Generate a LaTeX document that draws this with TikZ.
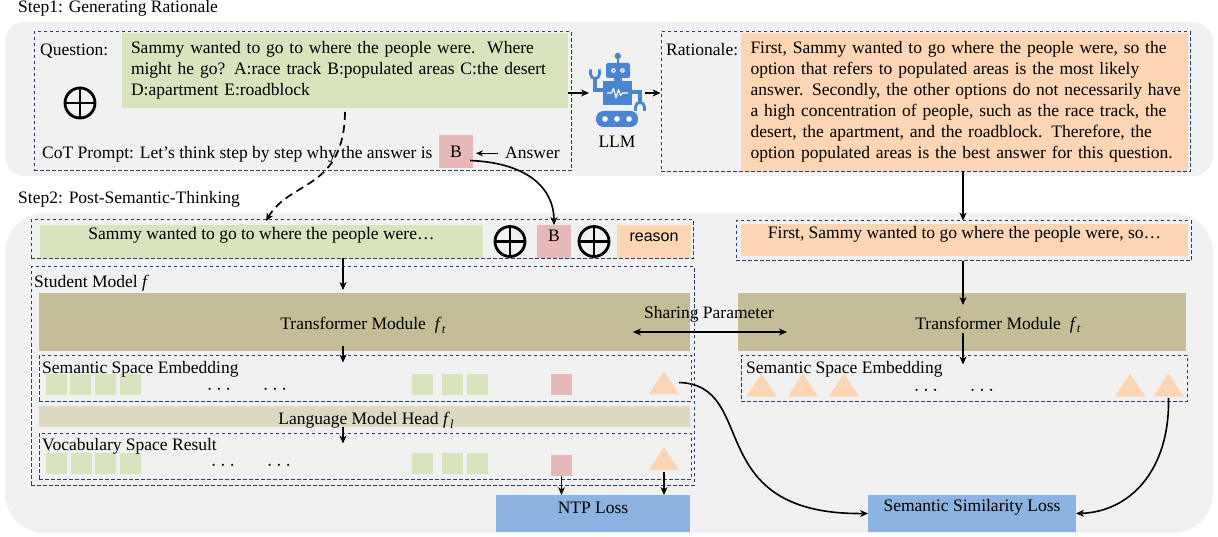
\documentclass[tikz,border=0pt]{standalone}
\usepackage{fontspec}
\setmainfont{Liberation Serif}
\newfontfamily\sansf{Liberation Sans}
\usetikzlibrary{arrows.meta,fit,calc}
\definecolor{bgg}{HTML}{F1F1F1}
\definecolor{grn}{HTML}{D8E4BD}
\definecolor{pnk}{HTML}{E6B8B7}
\definecolor{pch}{HTML}{FCD5B4}
\definecolor{khk}{HTML}{C4BD97}
\definecolor{lmh}{HTML}{DDD9C3}
\definecolor{blu}{HTML}{8DB3E2}
\definecolor{dsh}{HTML}{24406A}
\definecolor{rob}{HTML}{4A86CF}
\newcommand\jl[1]{\makebox[428pt][s]{#1}\\}
\newcommand\fsb[1]{\textit{f}\kern0.3pt\raisebox{-4pt}{\fontsize{12.5}{12.5}\selectfont\textit{#1}}}
\begin{document}
\begin{tikzpicture}[x=1pt,y=-1pt,font=\fontsize{17.5}{21}\selectfont,
 dbox/.style={draw=dsh,line width=1pt,dash pattern=on 3.5pt off 2.5pt,inner sep=0pt},
 fb/.style={inner sep=0pt,outer sep=0pt},
 arr/.style={-{Stealth[length=8pt,width=7pt]},line width=1.6pt},
 sq/.style={fill=#1,minimum size=21pt,inner sep=0pt,outer sep=0pt},
 opl/.style={circle,draw=black,line width=2.8pt,minimum size=30pt,inner sep=0pt},
 lbl/.style={anchor=base west,inner sep=0pt},
 ctr/.style={anchor=base,inner sep=0pt},
 dts/.style={inner sep=0pt,font=\fontsize{21}{21}\selectfont},
 tri/.pic={\fill[pch] (-15,11.5) -- (0,-11.5) -- (15,11.5) -- cycle;
   \coordinate (-b) at (0,13); \coordinate (-r) at (15,0);}]
\useasboundingbox (0,0) rectangle (1218,537);

% panels
\node[fb,fill=bgg,rounded corners=20pt,fit={(5,22) (1213,176)}] (p1) {};
\node[fb,fill=bgg,rounded corners=40pt,fit={(5,213) (1213,533)}] (p2) {};
\node[lbl] (s1) at (18,13) {Step1: Generating Rationale};
\node[lbl] (s2) at (18,204) {Step2: Post-Semantic-Thinking};

% ---------- step 1 ----------
\node[fb,fill=grn,anchor=north west,text width=428pt,inner xsep=9pt,minimum height=75pt,align=left] (qg) at (122,33)
 {\jl{Sammy wanted to go to where the people were.\ \ Where}\jl{might he go? A:race track B:populated areas C:the desert}D:apartment E:roadblock};
\node[lbl] (ql) at (40,56) {Question:};
\node[opl] (o0) at (80,103) {};
\draw[line width=2.8pt] (o0.north) -- (o0.south) (o0.west) -- (o0.east);
\node[lbl] (cot) at (42,159) {CoT Prompt: Let’s think step by step why the answer is};
\node[fb,fill=pnk,minimum width=34pt,minimum height=33pt] (b1) at (456,151.5) {B};
\node[lbl] (ans) at (505,159) {Answer};

\node[fb,fill=pch,anchor=north west,text width=428pt,inner xsep=9.5pt,minimum height=138pt,align=left] (ro) at (741,33)
 {\jl{First, Sammy wanted to go where the people were, so the}\jl{option that refers to populated areas is the most likely}\jl{answer. Secondly, the other options do not necessarily have}\jl{a high concentration of people, such as the race track, the}\jl{desert, the apartment, and the roadblock. Therefore, the}option populated areas is the best answer for this question.};
\node[lbl] (rl) at (666,56) {Rationale:};

% robot
\node[fb,fit={(589,59) (645,127)}] (robot) {};
\fill[rob] (617.8,56) circle (3.2pt);
\fill[rob] (616.9,58) rectangle (618.7,64);
\fill[rob,rounded corners=2pt] (606,63) rectangle (630,78);
\fill[white] (613.5,70.5) circle (2.3pt) (622.5,70.5) circle (2.3pt);
\fill[rob] (613.5,70.5) circle (1pt) (622.5,70.5) circle (1pt);
\fill[rob] (614,77) rectangle (622,82);
\fill[rob] (603,81) rectangle (632,105);
\draw[white,line width=1.1pt,line join=round] (607,93) -- (611.5,93) -- (613.5,88.5) -- (616,98) -- (618.5,89.5) -- (620.5,95.5) -- (622.5,93) -- (628,93);
\draw[rob,line width=3.5pt] (604,90) -- (595,90) -- (595,77);
\draw[rob,line width=2.8pt] (590.5,69.5) -- (590.5,74) .. controls (590.5,80) and (599.5,80) .. (599.5,74) -- (599.5,69.5);
\draw[rob,line width=3.5pt] (631,92) -- (640,92) -- (640,103);
\draw[rob,line width=2.8pt] (635.5,111) -- (635.5,107) .. controls (635.5,101) and (644.5,101) .. (644.5,107) -- (644.5,111);
\fill[rob,rounded corners=7.5pt] (596,111) rectangle (638,127);
\fill[white] (605,119) circle (2.8pt) (617,119) circle (2.8pt) (629,119) circle (2.8pt);
\node[ctr] (llm) at (617,148) {LLM};

\node[dbox,fit={(34,32) (571,171)}] (qd) {};
\node[dbox,fit={(661,32) (1190,172)}] (rd) {};

% ---------- step 2 ----------
\node[fb,fill=grn,fit={(40,225) (483,258)}] (ig) {Sammy wanted to go to where the people were…};
\node[opl] (o1) at (510,241.5) {};
\draw[line width=2.8pt] (o1.north) -- (o1.south) (o1.west) -- (o1.east);
\node[fb,fill=pnk,fit={(537,225) (571,258)}] (b2) {B};
\node[opl] (o2) at (594,241.5) {};
\draw[line width=2.8pt] (o2.north) -- (o2.south) (o2.west) -- (o2.east);
\node[fb,fill=pch,fit={(617,225) (691,258)},font=\sansf\fontsize{16}{16}\selectfont] (rs) {reason};

\node[fb,fill=khk,fit={(39,293) (690,351)}] (tL) {};
\node[ctr] (tLt) at (363,330) {Transformer Module\ \ \fsb{t}};
\node[fb,fill=lmh,fit={(39,406) (690,427)}] (lm) {};
\node[ctr] (lmt) at (366,424) {Language Model Head \fsb{l}};
\node[fb,fill=blu,fit={(496,495) (690,532)}] (ntp) {NTP Loss};

\node[fb,fill=pch,fit={(741,224) (1188,256)}] (rg) {First, Sammy wanted to go where the people were, so…};
\node[fb,fill=khk,fit={(738,293) (1186,351)}] (tR) {};
\node[ctr] (tRt) at (998,329) {Transformer Module\ \ \fsb{t}};
\node[fb,fill=blu,fit={(868,495) (1076,532)}] (ssl) {Semantic Similarity Loss};

% tokens: left semantic embedding
\foreach \x [count=\i] in {56.5,80,105.5,130.5,422.5,452,477.5}
  \node[sq=grn] (se\i) at (\x,384.5) {};
\node[sq=pnk] (sp1) at (561.5,384.5) {};
\pic (t1) at (664,382.5) {tri};
\node[dts] (sd1) at (219,390) {$\cdots$};
\node[dts] (sd2) at (275,390) {$\cdots$};
% tokens: vocabulary
\foreach \x [count=\i] in {56.5,81.5,105.5,130.5,422.5,452,477.5}
  \node[sq=grn] (ve\i) at (\x,463.5) {};
\node[sq=pnk] (vp) at (561.5,465.5) {};
\pic (vt) at (664,458.5) {tri};
\node[dts] (vd1) at (223,466) {$\cdots$};
\node[dts] (vd2) at (279,466) {$\cdots$};
% tokens: right semantic embedding
\pic (r1) at (761.5,385) {tri};
\pic (r2) at (803,385) {tri};
\pic (r3) at (844,385) {tri};
\pic (r4) at (1130,385) {tri};
\pic (r5) at (1168.5,385) {tri};
\node[dts] (rd1) at (926,391) {$\cdots$};
\node[dts] (rd2) at (982,391) {$\cdots$};

% dashed boxes step 2
\node[dbox,fit={(31,220) (693,259)}] (id) {};
\node[dbox,fit={(31,267) (694,485)}] (sd) {};
\node[dbox,fit={(39,355) (691,401)}] (seL) {};
\node[dbox,fit={(39,433) (691,479)}] (voc) {};
\node[dbox,fit={(736,221) (1191,261)}] (rid) {};
\node[dbox,fit={(741,355) (1187,401)}] (seR) {};

\node[lbl] (stl) at (34,288) {Student Model \textit{f}};
\node[lbl] (sel) at (42,373) {Semantic Space Embedding};
\node[lbl] (vol) at (42,450) {Vocabulary Space Result};
\node[lbl] (ser) at (746,373) {Semantic Space Embedding};
\node[ctr] (sp) at (709,319) {Sharing Parameter};

% ---------- connectors ----------
\coordinate (xL) at (343,0);
\coordinate (xR) at (963,0);
\coordinate (dE) at (266,221);
\draw[-{Stealth[length=7pt,width=6pt]},line width=1.2pt,shorten >=3pt,shorten <=7pt] (ans.west) -- (b1.east |- ans.west);
\draw[arr] (qg.east |- robot.west) -- (robot.west);
\draw[arr] (robot.east) -- (rd.west |- robot.east);
\draw[arr,dash pattern=on 8pt off 5pt,line width=1.7pt] ($(qg.south)+(0,4)$) .. controls (344,190) and (290,180) .. (dE);
\draw[arr] ($(b1.east)+(-3,9)$) .. controls (530,163) and (554,190) .. (b2.north);

\draw[arr,shorten >=3pt] (ig.south -| xL) -- (tL.north -| xL);
\draw[arr] ($(tL.south -| xL)+(0,-5)$) -- ($(seL.north -| xL)+(0,8)$);
\draw[arr] (lm.south -| xL) -- ($(voc.north -| xL)+(0,11)$);
\draw[arr] (vp.south) -- (ntp.north -| vp.south);
\draw[arr] (vt-b) -- (ntp.north -| vt-b);

\draw[arr] (ro.south -| xR) -- (rid.north -| xR);
\draw[arr] (rid.south -| xR) -- ($(tR.north -| xR)+(0,12)$);
\draw[arr] ($(tR.south -| xR)+(0,-18)$) -- ($(seR.north -| xR)+(0,10)$);

\draw[{Stealth[length=8pt,width=7pt]}-{Stealth[length=8pt,width=7pt]},line width=1.6pt]
  ($(tL.east)+(-57,10)$) -- ($(tR.west)+(49,10)$);

\draw[arr] (t1-r) .. controls (760,385) and (700,515) .. (ssl.west);
\draw[arr] (r5-b) .. controls (1170,470) and (1130,512) .. (ssl.east);
\end{tikzpicture}
\end{document}
